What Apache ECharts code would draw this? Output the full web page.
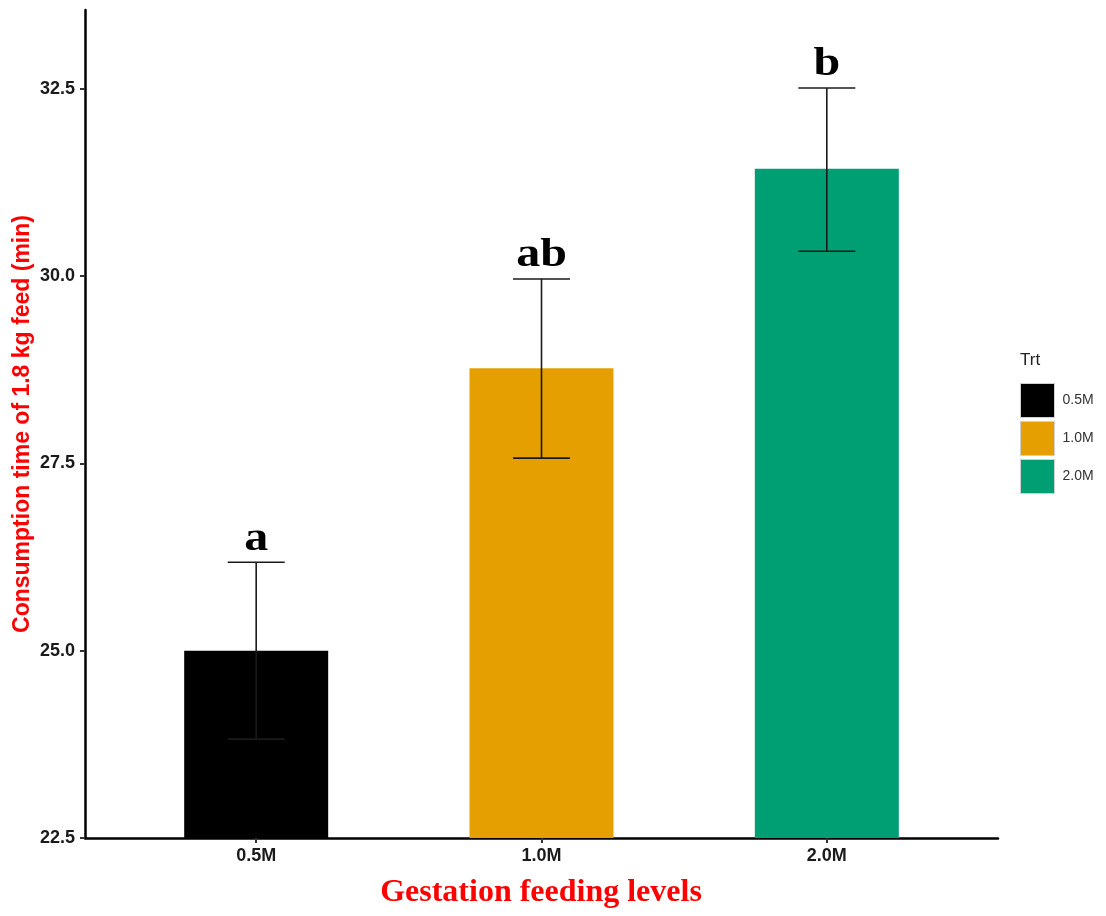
<!DOCTYPE html>
<html>
<head>
<meta charset="utf-8">
<style>html,body{margin:0;padding:0;background:#fff;}#c{width:1106px;height:916px;}</style>
<script src="https://cdn.jsdelivr.net/npm/echarts@6/dist/echarts.min.js"></script>
</head>
<body>
<div id="c"></div>
<script>
const categories = ['0.5M', '1.0M', '2.0M'];
const means = [25.0, 28.77, 31.43];
const upper = [26.18, 29.96, 32.51];
const lower = [23.82, 27.57, 30.33];
const letters = ['a', 'ab', 'b'];
const yTicks = [22.5, 25.0, 27.5, 30.0, 32.5];
const colors = ['#000000', '#E69F00', '#009E73'];

const positions = categories.map((c, i) => i + 1);
const chart = echarts.init(document.getElementById('c'));

const barSeries = categories.map((c, i) => ({
  type: 'bar',
  name: c,
  data: [[positions[i], means[i]]],
  barWidth: 144,
  barGap: '-100%',
  itemStyle: { color: colors[i] },
  z: 2
}));

const errData = categories.map((c, i) => [positions[i], lower[i], upper[i], i]);

const option = {
  animation: false,
  backgroundColor: '#ffffff',
  grid: { left: 85, right: 108, top: 10, bottom: 78 },
  xAxis: {
    type: 'value',
    min: 0.4,
    max: 3.6,
    splitLine: { show: false },
    axisLine: { show: true, lineStyle: { color: '#000', width: 2.5 } },
    axisTick: { show: true, length: 5, lineStyle: { color: '#333', width: 2 }, customValues: positions },
    axisLabel: {
      customValues: positions,
      formatter: v => categories[Math.round(v) - 1] || '',
      fontFamily: 'Liberation Sans', fontWeight: 'bold', fontSize: 18, color: '#1a1a1a', margin: 9
    }
  },
  yAxis: {
    type: 'value',
    min: 22.5,
    max: 33.55,
    interval: 2.5,
    splitLine: { show: false },
    axisLine: { show: true, lineStyle: { color: '#000', width: 2.5 } },
    axisTick: { show: true, length: 5, lineStyle: { color: '#333', width: 2 }, customValues: yTicks },
    axisLabel: {
      customValues: yTicks,
      formatter: v => Number(v).toFixed(1),
      fontFamily: 'Liberation Sans', fontWeight: 'bold', fontSize: 18, color: '#1a1a1a', margin: 10
    }
  },
  legend: {
    orient: 'vertical',
    left: 1020,
    top: 383,
    padding: 0,
    itemWidth: 34,
    itemHeight: 34,
    itemGap: 3,
    icon: 'rect',
    data: categories,
    itemStyle: { borderColor: '#cfcfcf', borderWidth: 1 },
    textStyle: { fontFamily: 'Liberation Sans', fontSize: 14, color: '#333', padding: [0, 0, 0, 3] }
  },
  graphic: [
    { type: 'text', left: 1020, top: 352, style: { text: 'Trt', fontFamily: 'Liberation Sans', fontSize: 17, fill: '#222' } },
    { type: 'text', x: 23, y: 424, rotation: Math.PI / 2, style: { text: 'Consumption time of 1.8 kg feed (min)', fontFamily: 'Liberation Sans', fontWeight: 'bold', fontSize: 23, fill: '#ff0000', textAlign: 'center', textVerticalAlign: 'middle' } },
    { type: 'text', x: 541, y: 893, style: { text: 'Gestation feeding levels', fontFamily: 'Liberation Serif', fontWeight: 'bold', fontSize: 32, fill: '#ff0000', textAlign: 'center', textVerticalAlign: 'middle' } }
  ],
  series: barSeries.concat([{
    type: 'custom',
    name: 'err',
    data: errData,
    encode: { x: 0, y: [1, 2] },
    z: 5,
    clip: false,
    renderItem: function (params, api) {
      const x = api.value(0);
      const lo = api.coord([x, api.value(1)]);
      const hi = api.coord([x, api.value(2)]);
      const half = 28.5;
      const idx = api.value(3);
      const ls = { stroke: '#1a1a1a', lineWidth: 1.6 };
      return {
        type: 'group',
        children: [
          { type: 'line', shape: { x1: hi[0], y1: hi[1], x2: lo[0], y2: lo[1] }, style: ls },
          { type: 'line', shape: { x1: hi[0] - half, y1: hi[1], x2: hi[0] + half, y2: hi[1] }, style: ls },
          { type: 'line', shape: { x1: lo[0] - half, y1: lo[1], x2: lo[0] + half, y2: lo[1] }, style: ls },
          { type: 'text', x: hi[0], y: hi[1] - 3, scaleX: 1.2, style: { text: letters[idx], fontFamily: 'Liberation Serif', fontWeight: 'bold', fontSize: 40, fill: '#000', textAlign: 'center', textVerticalAlign: 'bottom' } }
        ]
      };
    }
  }])
};
chart.setOption(option);
</script>
</body>
</html>
